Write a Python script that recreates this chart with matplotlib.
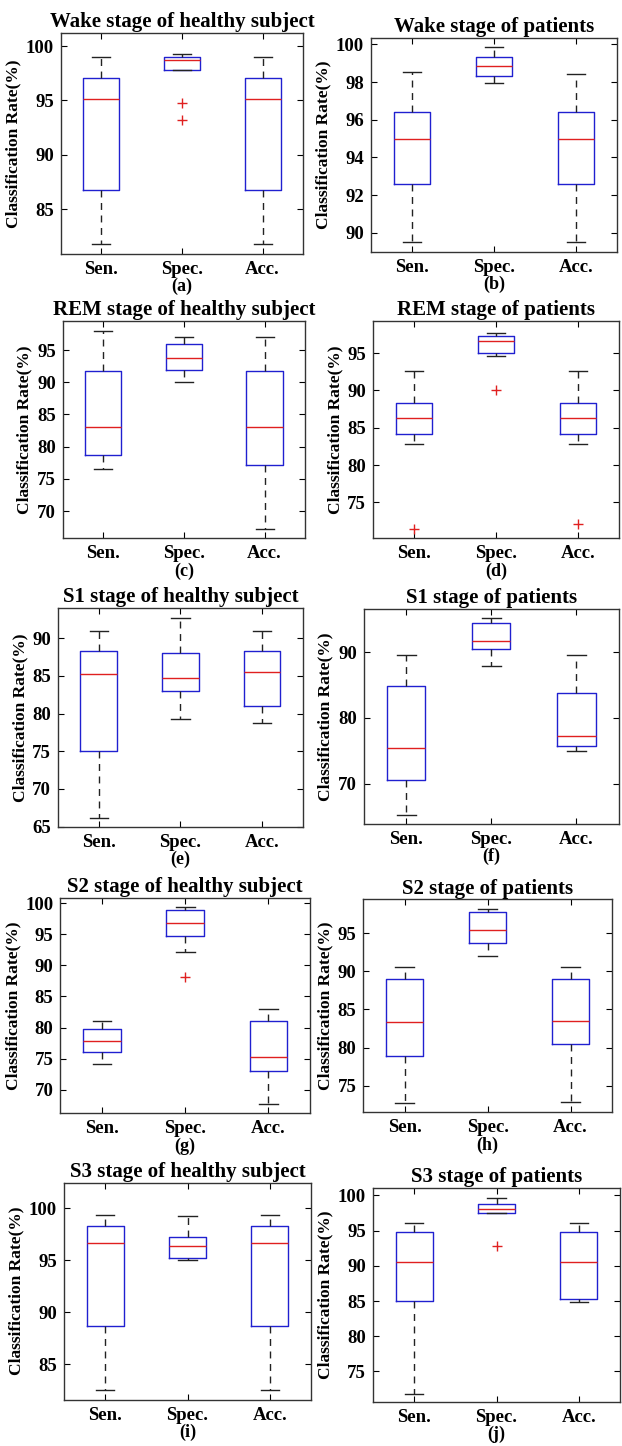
import matplotlib
matplotlib.use("Agg")
import matplotlib.pyplot as plt

plt.rcParams['font.family'] = ['Liberation Serif', 'DejaVu Serif']
plt.rcParams['font.weight'] = 'bold'

groups = ['Sen.', 'Spec.', 'Acc.']

titles = ['Wake stage of healthy subject', 'Wake stage of patients',
          'REM stage of healthy subject', 'REM stage of patients',
          'S1 stage of healthy subject', 'S1 stage of patients',
          'S2 stage of healthy subject', 'S2 stage of patients',
          'S3 stage of healthy subject', 'S3 stage of patients']
letters = ['(a)', '(b)', '(c)', '(d)', '(e)', '(f)', '(g)', '(h)', '(i)', '(j)']

# per panel, per group: [whisker low, q1, median, q3, whisker high]
wake_h = [[81.8, 86.75, 95.1, 97.1, 98.95], [97.8, 97.8, 98.7, 99.0, 99.25], [81.8, 86.75, 95.1, 97.1, 98.95]]
wake_p = [[89.5, 92.6, 95.0, 96.4, 98.55], [97.95, 98.3, 98.85, 99.35, 99.85], [89.5, 92.6, 95.0, 96.4, 98.4]]
rem_h = [[76.5, 78.65, 83.0, 91.8, 98.0], [90.1, 91.85, 93.7, 96.0, 96.95], [67.2, 77.2, 83.0, 91.8, 96.95]]
rem_p = [[82.8, 84.15, 86.25, 88.3, 92.65], [94.55, 95.0, 96.65, 97.3, 97.65], [82.8, 84.15, 86.25, 88.3, 92.65]]
s1_h = [[66.2, 75.05, 85.2, 88.3, 91.0], [79.25, 83.05, 84.75, 88.05, 92.65], [78.8, 81.05, 85.55, 88.3, 91.0]]
s1_p = [[65.2, 70.5, 75.4, 84.85, 89.6], [87.9, 90.55, 91.8, 94.4, 95.25], [74.95, 75.7, 77.3, 83.85, 89.6]]
s2_h = [[74.2, 76.0, 77.85, 79.7, 81.0], [92.1, 94.7, 96.8, 98.85, 99.35], [67.65, 73.05, 75.2, 81.05, 82.95]]
s2_p = [[72.75, 78.85, 83.35, 89.0, 90.55], [91.95, 93.75, 95.4, 97.75, 98.15], [72.9, 80.5, 83.45, 89.0, 90.55]]
s3_h = [[82.5, 88.65, 96.65, 98.3, 99.3], [95.05, 95.25, 96.4, 97.2, 99.25], [82.5, 88.65, 96.65, 98.3, 99.3]]
s3_p = [[71.8, 85.05, 90.55, 94.8, 96.1], [97.45, 97.45, 98.1, 98.85, 99.6], [84.8, 85.35, 90.55, 94.8, 96.1]]

# outliers per panel, per group
out_wake_h = [[], [94.75, 93.25], []]
out_wake_p = [[], [], []]
out_rem_h = [[], [], []]
out_rem_p = [[71.45], [90.05], [72.1]]
out_s1_h = [[], [], []]
out_s1_p = [[], [], []]
out_s2_h = [[], [88.15], []]
out_s2_p = [[], [], []]
out_s3_h = [[], [], []]
out_s3_p = [[], [92.8], []]

panels = [wake_h, wake_p, rem_h, rem_p, s1_h, s1_p, s2_h, s2_p, s3_h, s3_p]
outliers = [out_wake_h, out_wake_p, out_rem_h, out_rem_p, out_s1_h, out_s1_p,
            out_s2_h, out_s2_p, out_s3_h, out_s3_p]

ylims = [(80.9, 101.2), (89.0, 100.35), (65.8, 99.5), (70.2, 99.3), (65.0, 94.0),
         (63.85, 96.6), (66.2, 100.9), (71.5, 99.45), (81.6, 102.45), (70.7, 101.1)]
yticks = [[85, 90, 95, 100], [90, 92, 94, 96, 98, 100], [70, 75, 80, 85, 90, 95],
          [75, 80, 85, 90, 95], [65, 70, 75, 80, 85, 90], [70, 80, 90],
          [70, 75, 80, 85, 90, 95, 100], [75, 80, 85, 90, 95], [85, 90, 95, 100],
          [75, 80, 85, 90, 95, 100]]

# axes boxes in pixels: left, right, top, bottom
W, H = 622, 1446
boxes = [(61, 303, 33, 254), (371, 617, 37.7, 251.7),
         (62.7, 305, 321, 538.3), (373, 619, 321, 538.3),
         (58, 302.7, 608, 826.7), (363.7, 619, 609, 824),
         (60.3, 310, 897.7, 1113.3), (363.3, 612, 899.3, 1112.3),
         (64, 311, 1182.7, 1399.7), (373, 620, 1187.7, 1401.7)]

fig = plt.figure(figsize=(W / 100, H / 100), dpi=100)

for i in range(10):
    l, r, t, b = boxes[i]
    ax = fig.add_axes([l / W, 1 - b / H, (r - l) / W, (b - t) / H])
    stats = []
    for g, name in enumerate(groups):
        lo, q1, med, q3, hi = panels[i][g]
        stats.append(dict(whislo=lo, q1=q1, med=med, q3=q3, whishi=hi,
                          fliers=outliers[i][g], label=name))
    ax.bxp(stats, positions=[1, 2, 3], widths=0.45,
           boxprops=dict(color='#2020d0', linewidth=1.0),
           medianprops=dict(color='#e02020', linewidth=1.0),
           whiskerprops=dict(color='#222222', linewidth=1.0, linestyle=(0, (5, 4))),
           capprops=dict(color='#222222', linewidth=1.0),
           flierprops=dict(marker='+', markeredgecolor='#e02020', markersize=7,
                           markeredgewidth=1.0, linestyle='none'))
    ax.set_xlim(0.5, 3.5)
    ax.set_ylim(*ylims[i])
    ax.set_yticks(yticks[i])
    ax.tick_params(direction='in', top=True, right=True, length=4, width=0.8,
                   labelsize=13.5, pad=5)
    for lab in ax.get_xticklabels() + ax.get_yticklabels():
        lab.set_fontweight('bold')
    for sp in ax.spines.values():
        sp.set_linewidth(1.0)
        sp.set_color('#333333')
    ax.set_title(titles[i], fontsize=15, fontweight='bold', pad=4)
    ax.set_ylabel('Classification Rate(%)', fontsize=12.5, fontweight='bold', labelpad=3)
    ax.set_xlabel(letters[i], fontsize=13, fontweight='bold', labelpad=0)

fig.savefig('out.png', dpi=100)
